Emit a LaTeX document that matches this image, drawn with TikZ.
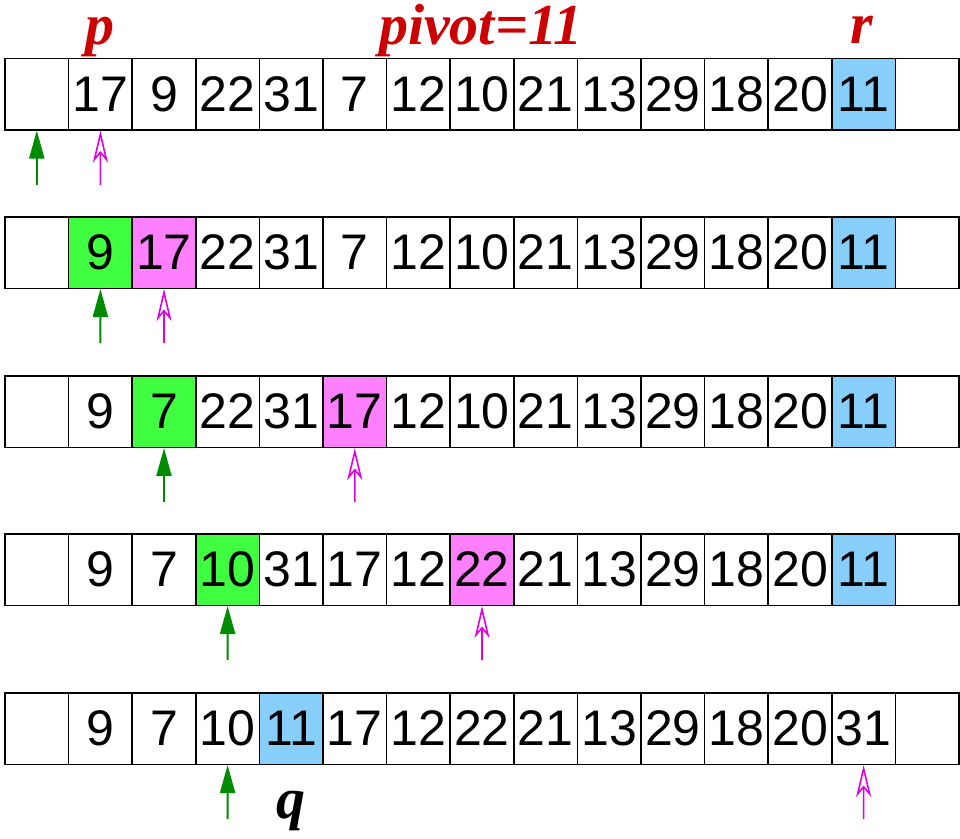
\documentclass[tikz,border=0pt]{standalone}
\usepackage{fontspec}
\setmainfont{Liberation Sans}
\newfontfamily\labfont{Liberation Serif}
\usetikzlibrary{arrows.meta}
\definecolor{cgreen}{RGB}{64,255,64}
\definecolor{cmag}{RGB}{255,128,255}
\definecolor{cblue}{RGB}{135,206,250}
\definecolor{agreen}{RGB}{0,140,0}
\definecolor{amag}{RGB}{225,0,225}
\definecolor{lred}{RGB}{204,0,0}
\begin{document}
\begin{tikzpicture}[x=1pt,y=-1pt,
  cell/.style={draw, line width=1.5pt, minimum width=63.6pt, minimum height=71.5pt,
    inner sep=0pt, font=\fontsize{50}{50}\selectfont},
  garrow/.style={draw=agreen, line width=2pt, -{Triangle[length=28pt,width=15pt]}},
  marrow/.style={draw=amag, line width=1.6pt, -{Stealth[open,length=32pt,width=15pt,inset=9pt]}},
  lab/.style={text=lred, font=\labfont\bfseries\itshape\fontsize{58}{58}\selectfont, anchor=base, inner sep=0pt},
  white/.style={fill=white}, green/.style={fill=cgreen}, mag/.style={fill=cmag}, blue/.style={fill=cblue}]
\useasboundingbox (0,0) rectangle (960,838);
\foreach \r/\yc/\row in {
 1/94/{{}/white,17/white,9/white,22/white,31/white,7/white,12/white,10/white,21/white,13/white,29/white,18/white,20/white,11/blue,{}/white},
 2/252.5/{{}/white,9/green,17/mag,22/white,31/white,7/white,12/white,10/white,21/white,13/white,29/white,18/white,20/white,11/blue,{}/white},
 3/411.5/{{}/white,9/white,7/green,22/white,31/white,17/mag,12/white,10/white,21/white,13/white,29/white,18/white,20/white,11/blue,{}/white},
 4/569.5/{{}/white,9/white,7/white,10/green,31/white,17/white,12/white,22/mag,21/white,13/white,29/white,18/white,20/white,11/blue,{}/white},
 5/728.5/{{}/white,9/white,7/white,10/white,11/blue,17/white,12/white,22/white,21/white,13/white,29/white,18/white,20/white,31/white,{}/white}}{
  \foreach \v/\f [count=\i from 0] in \row {
    \node[cell,\f] (c\r-\i) at ({36.8+63.6*\i},\yc) {\v};
  }
}
% arrow tails
\coordinate (g1) at (36.8,185);   \coordinate (m1) at (100.4,185);
\coordinate (g2) at (100.4,343);  \coordinate (m2) at (164,343);
\coordinate (g3) at (164,502);    \coordinate (m3) at (354.8,502);
\coordinate (g4) at (227.6,660);  \coordinate (m4) at (482,660);
\coordinate (g5) at (227.6,819);  \coordinate (m5) at (863.6,819);
\draw[garrow] (g1) -- (c1-0.south);
\draw[marrow] (m1) -- (c1-1.south);
\draw[garrow] (g2) -- (c2-1.south);
\draw[marrow] (m2) -- (c2-2.south);
\draw[garrow] (g3) -- (c3-2.south);
\draw[marrow] (m3) -- (c3-5.south);
\draw[garrow] (g4) -- (c4-3.south);
\draw[marrow] (m4) -- (c4-7.south);
\draw[garrow] (g5) -- (c5-3.south);
\draw[marrow] (m5) -- (c5-13.south);
% labels
\node[lab] (lp) at (100,44) {p};
\node[lab] (lpiv) at (481,44) {pivot=11};
\node[lab] (lr) at (862,43) {r};
\node[lab, text=black] (lq) at (291,818) {q};
\end{tikzpicture}
\end{document}
